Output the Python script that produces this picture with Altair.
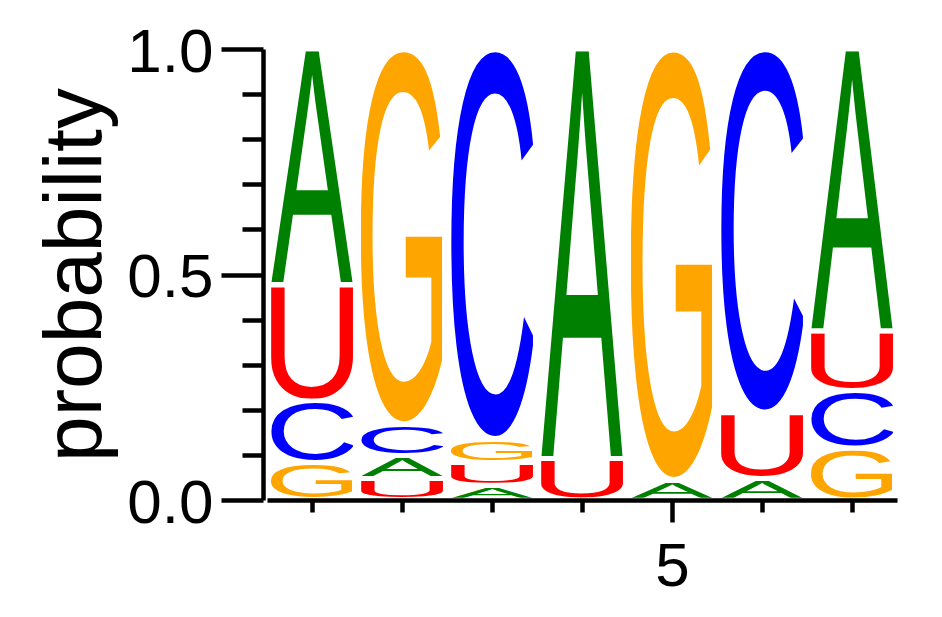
import base64
import altair as alt
import pandas as pd

positions = [1, 2, 3, 4, 5, 6, 7]
bases = ["A", "C", "G", "U"]
base_colors = ["#008000", "#0000FF", "#FFA500", "#FF0000"]
prob_A = [0.522, 0.050, 0.033, 0.908, 0.043, 0.047, 0.625]
prob_C = [0.137, 0.069, 0.866, 0.000, 0.000, 0.807, 0.128]
prob_G = [0.083, 0.833, 0.051, 0.000, 0.957, 0.000, 0.115]
prob_U = [0.258, 0.048, 0.050, 0.092, 0.000, 0.146, 0.132]
y_tick_values = [0.0, 0.1, 0.2, 0.3, 0.4, 0.5, 0.6, 0.7, 0.8, 0.9, 1.0]

# glyph ink boxes (font units, Liberation Sans at 2048 units/em): x0, x1, yMin, yMax
glyph_box = {
    "A": (-3, 1369, 0, 1409),
    "C": (100, 1385, -25, 1434),
    "G": (108, 1455, -25, 1434),
    "U": (158, 1320, -25, 1409),
}


def glyph_url(letter, color):
    x0, x1, ymin, ymax = glyph_box[letter]
    svg = (
        f'<svg xmlns="http://www.w3.org/2000/svg" width="100" height="100" '
        f'viewBox="{x0} {-ymax} {x1 - x0} {ymax - ymin}" preserveAspectRatio="none">'
        f'<text x="0" y="0" font-family="Liberation Sans, Arial, sans-serif" '
        f'font-size="2048" fill="{color}">{letter}</text></svg>'
    )
    return "data:image/svg+xml;base64," + base64.b64encode(svg.encode()).decode()


probs = {"A": prob_A, "C": prob_C, "G": prob_G, "U": prob_U}
rows = []
for b, c in zip(bases, base_colors):
    for p, v in zip(positions, probs[b]):
        if v > 0:
            rows.append({"pos": p, "base": b, "prob": v, "url": glyph_url(b, c)})
df = pd.DataFrame(rows)

FONT = "Liberation Sans"
PAD = 0.005
HALF = 0.455

x_axis = alt.Axis(
    values=positions,
    labelExpr="datum.value == 5 ? '5' : ''",
    tickSize={"condition": {"test": "datum.value == 5", "value": 22}, "value": 12},
    labelPadding=14,
    labelFontSize=62,
    labelFont=FONT,
    labelColor="black",
    labelOverlap=False,
    labelFlush=False,
    domainColor="black",
    domainWidth=4.5,
    tickColor="black",
    tickWidth=4.5,
    grid=False,
    title=None,
)

y_axis = alt.Axis(
    values=y_tick_values,
    labelExpr="(datum.value == 0 || datum.value == 0.5 || datum.value == 1) ? format(datum.value, '.1f') : ''",
    tickSize={"condition": {"test": "abs(datum.value * 2 - round(datum.value * 2)) < 0.001", "value": 42}, "value": 21},
    labelPadding=8,
    labelOffset=3,
    labelFontSize=62,
    labelFont=FONT,
    labelColor="black",
    labelOverlap=False,
    domainColor="black",
    domainWidth=4.5,
    tickColor="black",
    tickWidth=4.5,
    grid=False,
    offset=4,
    title="probability",
    titleFont=FONT,
    titleFontSize=82,
    titleFontWeight="normal",
    titleColor="black",
    titleAngle=270,
    titleAlign="center",
    titleBaseline="alphabetic",
    titleX=-163,
    titleY=225.5,
)

base = alt.Chart(df).transform_stack(
    stack="prob", groupby=["pos"], sort=[alt.SortField("prob", order="ascending")], as_=["s0", "s1"]
).transform_calculate(
    b=f"datum.s0 + {PAD}",
    t=f"datum.s1 - {PAD}",
    xl=f"datum.pos - {HALF}",
    xr=f"datum.pos + {HALF}",
)

letters = base.mark_image(aspect=False).encode(
    x=alt.X("xl:Q", scale=alt.Scale(domain=[0.5, 7.5], nice=False, zero=False), axis=x_axis),
    x2="xr:Q",
    y=alt.Y("b:Q", scale=alt.Scale(domain=[0, 1], nice=False), axis=y_axis),
    y2="t:Q",
    url="url:N",
)

chart = letters.properties(
    width=630,
    height=451,
    autosize=alt.AutoSizeParams(type="none"),
    padding={"left": 259, "top": 41, "right": 37, "bottom": 109},
    background="white",
).configure_view(stroke=None)

chart.save("out.html", embed_options={"renderer": "svg", "actions": False})
